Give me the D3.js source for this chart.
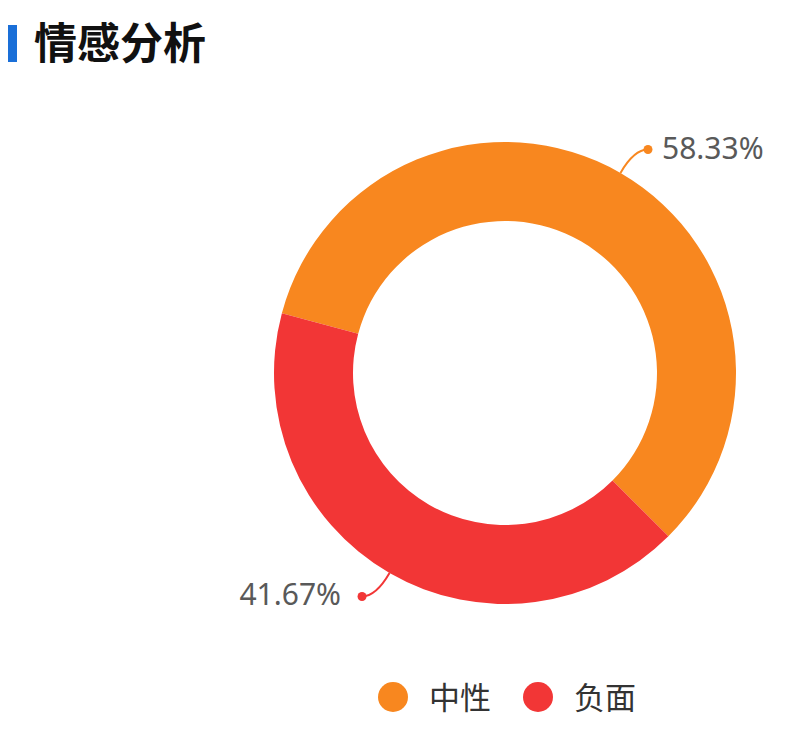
<!DOCTYPE html>
<html>
<head>
<meta charset="utf-8">
<script src="https://cdn.jsdelivr.net/npm/d3@7/dist/d3.min.js"></script>
<style>
html,body{margin:0;padding:0;background:#fff;}
svg{display:block;}
</style>
</head>
<body>
<svg id="chart" width="792" height="737"></svg>
<script>
const categories = ['中性', '负面'];
const values = [58.33, 41.67];
const colors = ['#F8871F', '#F23636'];
const title = '情感分析';

const svg = d3.select('#chart');
const cx = 505, cy = 373, rOuter = 231, rInner = 152;

// title
svg.append('rect').attr('x', 8).attr('y', 25).attr('width', 9).attr('height', 37).attr('fill', '#1A6FD8');
svg.append('text').attr('x', 34).attr('y', 59)
  .attr('font-family', '"Noto Sans CJK SC", sans-serif')
  .attr('font-weight', 700).attr('font-size', 43).attr('fill', '#111')
  .text(title);

const data = categories.map((c, i) => ({name: c, value: values[i], color: colors[i]}));
const start = -75 * Math.PI / 180;
const pie = d3.pie().sort(null).value(d => d.value).startAngle(start).endAngle(start + 2 * Math.PI);
const arcs = pie(data);
const arc = d3.arc().innerRadius(rInner).outerRadius(rOuter);

const g = svg.append('g').attr('transform', `translate(${cx},${cy})`);
g.selectAll('path.slice').data(arcs).join('path')
  .attr('class', 'slice')
  .attr('d', arc)
  .attr('fill', d => d.data.color);

const total = d3.sum(values);
const lg = svg.append('g').attr('transform', `translate(${cx},${cy})`);
arcs.forEach(d => {
  const mid = (d.startAngle + d.endAngle) / 2;
  const sx = Math.sin(mid), sy = -Math.cos(mid);
  const p0 = [sx * rOuter, sy * rOuter];
  const p1 = [sx * 258, sy * 258];
  const dir = sx >= 0 ? 1 : -1;
  const p2 = [p1[0] + dir * 14, p1[1]];
  lg.append('path')
    .attr('d', `M${p0[0]},${p0[1]} Q${p1[0]},${p1[1]} ${p2[0]},${p2[1]}`)
    .attr('fill', 'none').attr('stroke', d.data.color).attr('stroke-width', 2);
  lg.append('circle').attr('cx', p2[0]).attr('cy', p2[1]).attr('r', 4.5).attr('fill', d.data.color);
  lg.append('text')
    .attr('x', p2[0] + dir * (dir > 0 ? 14 : 21)).attr('y', p2[1] + 9)
    .attr('text-anchor', dir > 0 ? 'start' : 'end')
    .attr('font-family', '"Noto Sans", sans-serif')
    .attr('font-size', 30).attr('fill', '#595959')
    .text((d.data.value / total * 100).toFixed(2) + '%');
});

// legend
const legendX = [393, 538];
const leg = svg.append('g');
data.forEach((d, i) => {
  leg.append('circle').attr('cx', legendX[i]).attr('cy', 697).attr('r', 15).attr('fill', d.color);
  leg.append('text').attr('x', legendX[i] + 36).attr('y', 709)
    .attr('font-family', '"Noto Sans CJK SC", sans-serif')
    .attr('font-size', 31).attr('fill', '#333')
    .text(d.name);
});
</script>
</body>
</html>
